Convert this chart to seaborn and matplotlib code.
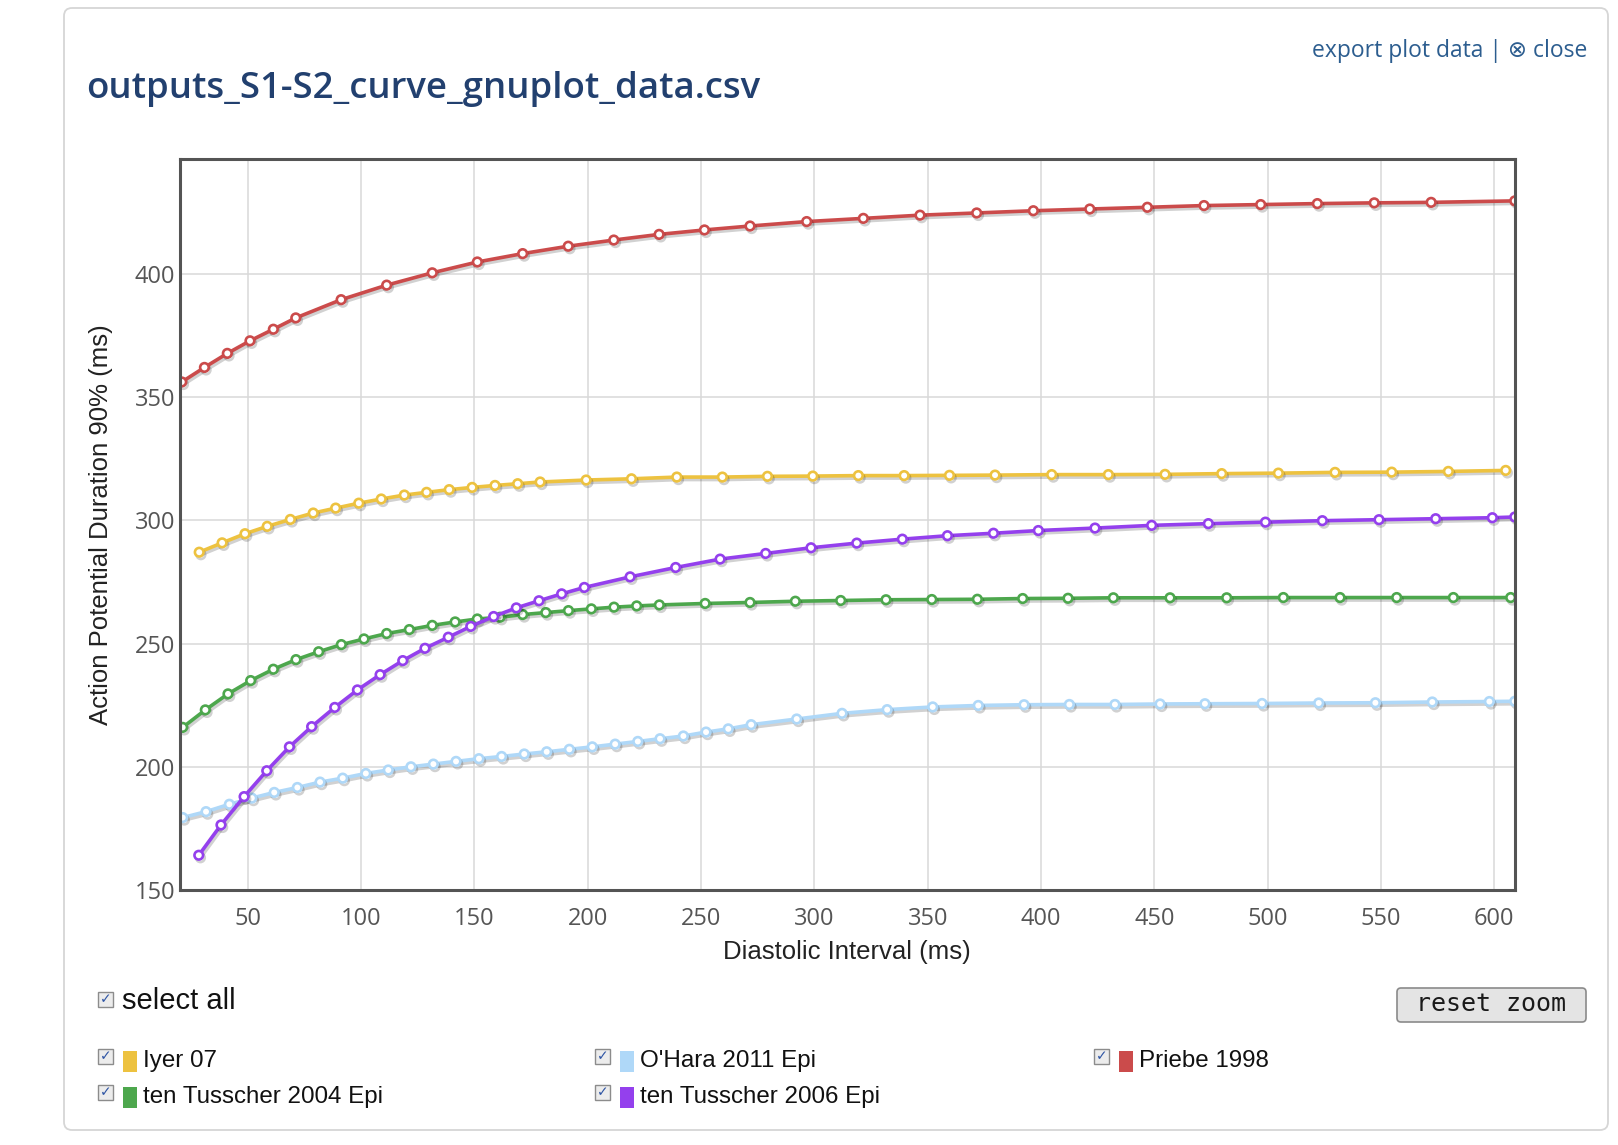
import matplotlib
matplotlib.use("Agg")
import matplotlib.pyplot as plt
import matplotlib.patheffects as pe
from matplotlib import font_manager
from matplotlib.patches import Rectangle, FancyBboxPatch
import seaborn as sns

sns.set_theme(style="whitegrid")
plt.rcParams['font.family'] = ['Open Sans', 'DejaVu Sans']

# ---- data (diastolic interval ms, APD90 ms) ----
names = ["Iyer 07", "O'Hara 2011 Epi", "Priebe 1998",
         "ten Tusscher 2004 Epi", "ten Tusscher 2006 Epi"]
colors = ["#edc240", "#afd8f8", "#cb4b4b", "#4da74d", "#9440ed"]

iyer_x = [28.6, 38.7, 48.8, 58.6, 68.8, 78.9, 88.8, 99.0, 108.9, 119.1, 128.9, 138.9,
          149.0, 159.1, 169.1, 179.0, 199.3, 219.3, 239.3, 259.4, 279.3, 299.3, 319.4,
          339.6, 359.6, 379.7, 404.7, 429.7, 454.7, 479.7, 504.7, 529.7, 554.7, 579.7,
          605.0]
iyer_y = [287.1, 290.9, 294.6, 297.6, 300.4, 303.0, 305.0, 307.0, 308.7, 310.3, 311.4,
          312.5, 313.4, 314.2, 314.9, 315.6, 316.4, 316.9, 317.6, 317.6, 317.9, 318.0,
          318.2, 318.2, 318.3, 318.4, 318.6, 318.6, 318.7, 319.0, 319.2, 319.5, 319.6,
          319.9, 320.3]

ohara_x = [21.3, 31.6, 41.9, 51.8, 61.7, 71.9, 81.9, 91.9, 102.1, 112.0, 122.0, 131.9,
           141.9, 152.0, 162.0, 172.0, 181.9, 191.9, 202.0, 212.1, 222.1, 231.9, 242.2,
           252.2, 262.0, 272.1, 292.2, 312.2, 332.1, 352.2, 372.3, 392.5, 412.5, 432.6,
           452.5, 472.3, 497.5, 522.5, 547.5, 572.6, 597.8, 609.0]
ohara_y = [179.4, 181.8, 184.8, 187.3, 189.6, 191.6, 193.8, 195.4, 197.3, 198.7, 200.0,
           201.1, 202.2, 203.3, 204.2, 205.2, 206.1, 207.1, 208.1, 209.2, 210.3, 211.4,
           212.5, 214.1, 215.4, 217.1, 219.4, 221.7, 223.2, 224.3, 224.9, 225.2, 225.3,
           225.3, 225.5, 225.6, 225.7, 225.9, 226.0, 226.3, 226.5, 226.6]

priebe_x = [20.9, 30.9, 41.0, 51.0, 61.3, 71.2, 91.2, 111.3, 131.4, 151.3, 171.3, 191.4,
            211.5, 231.5, 251.5, 271.6, 296.6, 321.6, 346.6, 371.6, 396.6, 421.5, 446.9,
            471.9, 496.9, 521.9, 547.0, 572.1, 609.0]
priebe_y = [356.2, 362.1, 367.8, 372.9, 377.6, 382.2, 389.6, 395.5, 400.5, 404.9, 408.3,
            411.3, 413.8, 416.1, 417.9, 419.5, 421.3, 422.6, 423.9, 424.8, 425.7, 426.4,
            427.1, 427.8, 428.2, 428.6, 428.9, 429.1, 429.7]

tt04_x = [21.3, 31.3, 41.3, 51.3, 61.3, 71.3, 81.3, 91.3, 101.3, 111.3, 121.3, 131.4,
          141.5, 151.3, 161.3, 171.3, 181.5, 191.5, 201.6, 211.6, 221.6, 231.6, 251.8,
          271.6, 291.6, 311.6, 331.6, 351.8, 371.9, 391.9, 411.9, 431.9, 456.9, 481.9,
          506.9, 531.9, 556.9, 581.9, 607.2]
tt04_y = [216.0, 223.1, 229.6, 235.0, 239.6, 243.5, 246.7, 249.6, 251.9, 254.1, 255.7,
          257.4, 258.8, 260.0, 260.7, 261.8, 262.6, 263.4, 264.1, 264.8, 265.3, 265.7,
          266.3, 266.7, 267.2, 267.5, 267.8, 267.9, 268.0, 268.3, 268.4, 268.6, 268.6,
          268.6, 268.7, 268.7, 268.7, 268.7, 268.7]

tt06_x = [28.4, 38.2, 48.4, 58.4, 68.4, 78.2, 88.4, 98.4, 108.4, 118.4, 128.2, 138.5,
          148.4, 158.5, 168.5, 178.5, 188.5, 198.5, 218.7, 238.8, 258.4, 278.5, 298.5,
          318.7, 338.8, 358.7, 379.0, 398.8, 423.8, 448.8, 473.8, 499.0, 524.1, 549.1,
          574.1, 599.1, 609.0]
tt06_y = [164.1, 176.4, 187.9, 198.4, 208.1, 216.3, 224.1, 231.2, 237.4, 243.1, 248.1,
          252.6, 257.0, 261.0, 264.5, 267.4, 270.2, 272.8, 277.1, 280.9, 284.3, 286.6,
          288.9, 290.8, 292.4, 293.8, 294.8, 295.9, 296.9, 298.0, 298.7, 299.3, 299.9,
          300.3, 300.7, 301.1, 301.4]

series_x = [iyer_x, ohara_x, priebe_x, tt04_x, tt06_x]
series_y = [iyer_y, ohara_y, priebe_y, tt04_y, tt06_y]

x_ticks = [50, 100, 150, 200, 250, 300, 350, 400, 450, 500, 550, 600]
y_ticks = [150, 200, 250, 300, 350, 400]
x_range = (19.9, 609.1)
y_range = (150, 446.7)

# ---- fonts ----
avail = {f.name for f in font_manager.fontManager.ttflist}
if 'Liberation Sans Narrow' in avail:
    leg_font, leg_size, sel_size = 'Liberation Sans Narrow', 21, 25
else:
    leg_font, leg_size, sel_size = 'Liberation Sans', 17.4, 21

W, H = 1618, 1145
fig = plt.figure(figsize=(W / 100, H / 100), dpi=100)
fig.patch.set_facecolor('white')

# page layer in pixel coordinates
bg = fig.add_axes([0, 0, 1, 1], zorder=0)
bg.set_xlim(0, W)
bg.set_ylim(H, 0)
bg.axis('off')

bg.add_patch(FancyBboxPatch((64, 8), 1544, 1122, boxstyle='round,pad=0,rounding_size=8',
                            fc='white', ec='#d6d6d6', lw=1.3))
bg.text(86, 98, 'outputs_S1-S2_curve_gnuplot_data.csv', fontsize=26.3, fontweight='semibold',
        color='#22406f', va='baseline', ha='left', family='Open Sans')
bg.text(1587, 57, 'export plot data | \u2297 close', fontsize=16.5, color='#2c5d8f',
        va='baseline', ha='right', family=['Open Sans', 'DejaVu Sans'])

# ---- main chart ----
L, R, T, B = 179.5, 1515, 159, 890
ax = fig.add_axes([L / W, 1 - B / H, (R - L) / W, (B - T) / H], zorder=1)
ax.set_facecolor('white')

for xs, ys, c in zip(series_x, series_y, colors):
    sns.lineplot(x=xs, y=ys, ax=ax, color=c, lw=2.6, marker='o', markersize=6.2,
                 markerfacecolor='white', markeredgecolor=c, markeredgewidth=1.9,
                 estimator=None, sort=False, legend=False,
                 path_effects=[pe.SimpleLineShadow(offset=(1.2, -1.8), shadow_color='black',
                                                   alpha=0.18),
                               pe.Normal()])

ax.set_xlim(*x_range)
ax.set_ylim(*y_range)
ax.set_xticks(x_ticks)
ax.set_yticks(y_ticks)
ax.grid(True, color='#d9d9d9', lw=1.1)
for s in ax.spines.values():
    s.set_visible(True)
    s.set_color('#545454')
    s.set_linewidth(2.2)
ax.tick_params(axis='both', length=0, labelsize=17, labelcolor='#555555',
               labelfontfamily='Open Sans')
ax.tick_params(axis='x', pad=12)
ax.tick_params(axis='y', pad=3)

ax.set_xlabel('Diastolic Interval (ms)', fontsize=18.5, family='Liberation Sans',
              color='#222222')
ax.set_ylabel('Action Potential Duration 90% (ms)', fontsize=18.5,
              family='Liberation Sans', color='#222222')
ax.xaxis.set_label_coords(0.5, -(939.5 - B) / (B - T))
ax.yaxis.set_label_coords(-(L - 113) / (R - L), 0.5)


# ---- checkbox legend below the chart ----
def checkbox(x, yc):
    bg.add_patch(Rectangle((x, yc - 7.5), 15, 15, fc='#ececec', ec='#8c8c8c', lw=1.0))
    bg.text(x + 7.5, yc, '\u2713', fontsize=10, color='#2f55a4', ha='center', va='center',
            family='DejaVu Sans')


checkbox(98, 999)
bg.text(122, 1001, 'select all', fontsize=sel_size, family=leg_font, color='#111111',
        ha='left', va='center')

col_x = [98, 595, 1094]
row_y = [1056, 1092]
for i, (name, c) in enumerate(zip(names, colors)):
    cx = col_x[i % 3]
    cy = row_y[i // 3]
    checkbox(cx, cy)
    bg.add_patch(Rectangle((cx + 25, cy - 5), 14, 21, fc=c, ec='none'))
    bg.text(cx + 45, cy + 5, name, fontsize=leg_size, family=leg_font, color='#111111',
            ha='left', va='center')

# reset zoom button
bg.add_patch(FancyBboxPatch((1397, 988), 189, 34, boxstyle='round,pad=0,rounding_size=4',
                            fc='#e4e4e4', ec='#8a8a8a', lw=1.2))
bg.text(1491.5, 1004, 'reset zoom', fontsize=18, family='DejaVu Sans Mono',
        color='#1a1a1a', ha='center', va='center')

fig.savefig('out.png', dpi=100)
